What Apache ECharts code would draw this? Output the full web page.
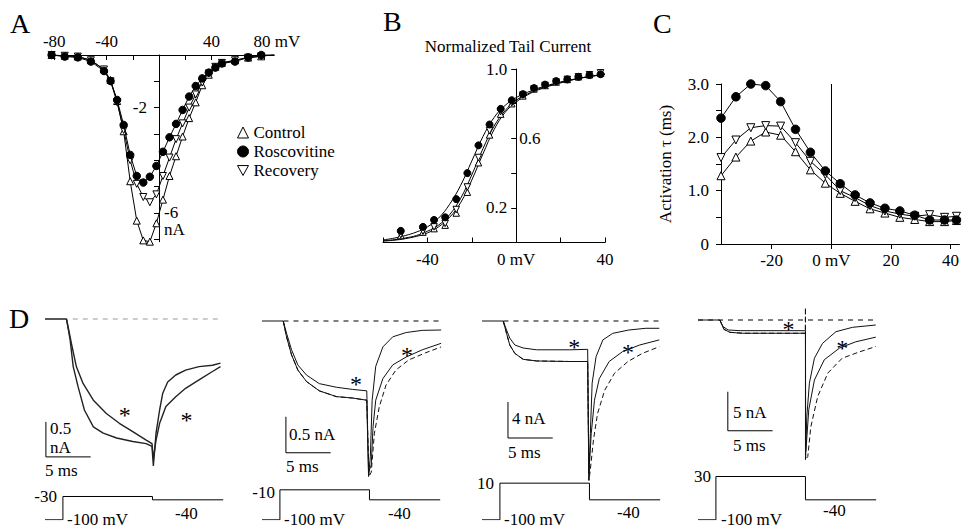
<!DOCTYPE html>
<html>
<head>
<meta charset="utf-8">
<script src="https://cdn.jsdelivr.net/npm/echarts@6/dist/echarts.min.js"></script>
<style>
  html, body { margin: 0; padding: 0; background: #fff; }
  #fig { width: 962px; height: 527px; }
</style>
</head>
<body>
<div id="fig"></div>
<script>
// ---------- A: current-voltage relation (mV, nA)
const ivVoltage = [-82, -72, -62, -52, -42, -37, -32, -27, -22, -17, -12, -7, -2, 3, 8, 13, 18, 23, 28, 33, 38, 43, 48, 58, 68, 78, 88];
const ivControl = [0, -0.03, -0.06, -0.2, -0.55, -0.95, -1.75, -2.9, -4.8, -6.3, -7.05, -7.1, -6.4, -5.5, -4.6, -3.85, -3.1, -2.4, -1.8, -1.15, -0.75, -0.45, -0.3, -0.2, -0.1, -0.05, 0.02];
const ivRoscovitine = [0, -0.06, -0.09, -0.25, -0.61, -0.99, -1.71, -2.66, -3.8, -4.6, -4.85, -4.63, -4.22, -3.68, -3.13, -2.62, -2.09, -1.58, -1.18, -0.89, -0.67, -0.48, -0.32, -0.25, -0.09, 0, 0.06];
const ivRecovery = [0, -0.03, -0.06, -0.2, -0.55, -1.0, -1.8, -2.85, -4.0, -4.9, -5.4, -5.6, -5.3, -4.6, -3.9, -3.2, -2.6, -2.0, -1.5, -1.05, -0.7, -0.45, -0.3, -0.2, -0.1, -0.05, 0.02];

// ---------- B: normalized tail current
const tailVoltage = [-52, -42, -37, -32, -27, -22, -17, -12, -7, -2, 3, 8, 13, 18, 23, 28, 33, 38];
const tailRoscovitine = [0.067, 0.09, 0.13, 0.145, 0.25, 0.40, 0.56, 0.68, 0.77, 0.82, 0.855, 0.89, 0.91, 0.93, 0.94, 0.955, 0.965, 0.97];
const tailControl = [0.04, 0.06, 0.08, 0.1, 0.17, 0.29, 0.46, 0.62, 0.74, 0.80, 0.845, 0.885, 0.905, 0.925, 0.94, 0.955, 0.967, 0.975];
const tailRecovery = [0.045, 0.065, 0.09, 0.11, 0.19, 0.32, 0.49, 0.645, 0.755, 0.805, 0.85, 0.885, 0.905, 0.925, 0.94, 0.955, 0.967, 0.978];
const fitVoltage = [-60, -55, -50, -45, -40, -35, -30, -25, -20, -15, -10, -5, 0, 5, 10, 20, 30, 40];
const fitRoscovitine = [0.015, 0.025, 0.04, 0.06, 0.09, 0.14, 0.22, 0.33, 0.47, 0.61, 0.72, 0.79, 0.835, 0.865, 0.89, 0.925, 0.95, 0.97];
const fitControl = [0.008, 0.013, 0.022, 0.035, 0.055, 0.09, 0.145, 0.23, 0.36, 0.51, 0.65, 0.75, 0.81, 0.85, 0.88, 0.92, 0.95, 0.97];
const fitRecovery = [0.01, 0.016, 0.026, 0.04, 0.065, 0.1, 0.16, 0.255, 0.39, 0.54, 0.67, 0.76, 0.82, 0.855, 0.885, 0.922, 0.95, 0.97];

// ---------- C: activation time constant (ms)
const tauVoltage = [-37, -32, -27, -22, -17, -12, -7, -2, 3, 8, 13, 18, 23, 28, 33, 38, 42];
const tauRoscovitine = [2.36, 2.76, 3.0, 2.97, 2.67, 2.15, 1.72, 1.37, 1.13, 0.92, 0.77, 0.67, 0.62, 0.54, 0.45, 0.45, 0.45];
const tauControl = [1.28, 1.63, 1.93, 2.1, 2.04, 1.73, 1.39, 1.14, 0.95, 0.8, 0.66, 0.58, 0.5, 0.46, 0.42, 0.42, 0.44];
const tauRecovery = [1.62, 1.95, 2.18, 2.22, 2.21, 1.9, 1.55, 1.3, 1.0, 0.87, 0.72, 0.62, 0.56, 0.52, 0.55, 0.5, 0.52];

// ---------- D: current traces, [ms, nA]
const d1Fast = [[-2, 0], [0.4, 0], [0.8, -0.29], [1.15, -0.68], [1.7, -0.97], [2.4, -1.3], [3.4, -1.54], [4.5, -1.63], [6, -1.7], [7.8, -1.75], [9.3, -1.78], [9.95, -1.82], [10.1, -2.1], [10.4, -1.63], [10.8, -1.3], [11.15, -1.06], [11.7, -0.9], [12.6, -0.8], [13.7, -0.73], [15.2, -0.68], [16.7, -0.66], [17.6, -0.63]];
const d1Slow = [[0.4, 0], [0.95, -0.35], [1.5, -0.68], [2.25, -0.92], [3.4, -1.16], [4.85, -1.35], [6.3, -1.49], [7.8, -1.61], [9.3, -1.73], [9.95, -1.78], [10.1, -2.0], [10.4, -1.73], [10.8, -1.49], [11.5, -1.25], [12.6, -1.11], [13.7, -0.99], [15.2, -0.87], [16.7, -0.75], [17.6, -0.68]];
const d2Fast = [[-2, 0], [0.37, 0], [0.74, -0.22], [1.3, -0.47], [2.0, -0.68], [2.96, -0.84], [4.4, -0.97], [6.3, -1.05], [8.1, -1.07], [9.7, -1.1], [9.9, -2.16], [10.1, -1.88], [10.3, -1.1], [10.7, -0.63], [11.5, -0.36], [12.6, -0.22], [14.1, -0.16], [15.9, -0.13], [18, -0.125]];
const d2Ros = [[0.37, 0], [0.74, -0.17], [1.3, -0.4], [2.0, -0.61], [2.96, -0.75], [4.4, -0.87], [6.3, -0.92], [8.1, -0.95], [9.7, -0.97], [9.9, -2.1], [10.2, -2.0], [10.4, -1.47], [10.7, -1.1], [11.5, -0.8], [12.6, -0.61], [14.1, -0.5], [15.9, -0.4], [18, -0.31]];
const d2Rec = [[0.37, 0], [0.74, -0.22], [1.3, -0.47], [2.0, -0.68], [2.96, -0.84], [4.4, -0.97], [6.3, -1.05], [8.1, -1.07], [9.7, -1.1], [9.95, -2.16], [10.2, -2.1], [10.55, -1.56], [11.1, -1.19], [11.85, -0.89], [12.96, -0.68], [14.4, -0.54], [16.3, -0.44], [18, -0.36]];
const d3Fast = [[-2, 0], [0.37, 0], [0.74, -1.37], [1.1, -2.67], [1.67, -3.6], [2.6, -4.26], [4.1, -4.44], [7.8, -4.5], [9.8, -4.5], [9.93, -17.7], [10.1, -12.5], [10.3, -6.9], [10.74, -3.96], [11.5, -2.1], [12.6, -1.37], [14.4, -1.0], [16.3, -0.81], [17.8, -0.81]];
const d3Ros = [[0.37, 0], [0.74, -1.0], [1.1, -1.9], [1.67, -2.67], [2.6, -3.0], [4.1, -3.2], [7.8, -3.2], [9.8, -3.15], [9.93, -17.0], [10.2, -12.5], [10.56, -8.8], [11.1, -6.4], [12.2, -4.5], [13.7, -3.4], [15.6, -2.67], [17.8, -2.1]];
const d3Rec = [[0.37, 0], [0.74, -1.37], [1.1, -2.67], [1.67, -3.6], [2.6, -4.26], [4.1, -4.44], [7.8, -4.5], [9.8, -4.5], [9.95, -17.7], [10.1, -16.5], [10.45, -13.2], [10.9, -10.3], [11.7, -7.7], [12.8, -5.8], [14.3, -4.5], [15.9, -3.6], [17.8, -2.85]];
const d4Fast = [[-2, 0], [0.44, 0], [0.9, -1.2], [1.56, -1.58], [3.0, -1.7], [10, -1.7], [10, -17.9], [10.15, -12.4], [10.44, -8.1], [11, -4.9], [11.9, -3.0], [13.4, -1.5], [15.25, -0.94], [17.85, -0.64]];
const d4Ros = [[0.44, 0], [0.8, -0.85], [1.37, -1.28], [2.7, -1.37], [10, -1.37], [10.02, -17], [10.1, -16], [10.37, -11.5], [11, -7.7], [12.1, -5.1], [13.8, -3.6], [15.6, -2.8], [17.85, -2.2]];
const d4Rec = [[0.44, 0], [0.9, -1.2], [1.56, -1.58], [3.0, -1.7], [9.98, -1.7], [10, 1.6], [10.02, -17.9], [10.26, -17.5], [10.6, -13.7], [11.37, -9.8], [12.5, -6.8], [14.1, -4.9], [16, -4.1], [17.85, -3.4]];
const dBaselines = [[[1.1, 0], [17.7, 0]], [[0.4, 0], [18, 0]], [[0.4, 0], [17.8, 0]], [[-2, 0], [17.85, 0]]];
const dScaleBars = [
  [[-1.9, -1.47], [-1.9, -1.97], [3.1, -1.97]],
  [[0.67, -1.33], [0.67, -1.83], [5.67, -1.83]],
  [[0.9, -9], [0.9, -13], [5.9, -13]],
  [[1.33, -9.2], [1.33, -14.2], [6.33, -14.2]]
];
const dAsterisks = [[[6.9, -1.3], [13.8, -1.37]], [[8.5, -0.81], [14.2, -0.4]], [[8.3, -2.3], [14.3, -2.86]], [[8.1, -0.5], [14.1, -3.0]]];

// voltage protocols (ms, mV)
const protoTime = [-2, 0, 0, 10, 10, 17.9];
const protoStep = [-30, -10, 10, 30];
const protoHold = -100;
const protoTail = -40;

const serif = '"Liberation Serif", "Times New Roman", "DejaVu Serif", serif';
const pair = (xs, ys) => xs.map((x, i) => [x, ys[i]]);
const openStyle = { color: '#fff', borderColor: '#000', borderWidth: 1, opacity: 1 };
const fillStyle = { color: '#000', borderColor: '#000', borderWidth: 1, opacity: 1 };
const axisText = { fontFamily: serif, fontSize: 17, color: '#000' };
const black = { color: '#000', width: 1 };

function marker(kind, name, gi, data, size, line) {
  return {
    type: line ? 'line' : 'scatter', name: name,
    xAxisIndex: gi, yAxisIndex: [0, 2, 4][gi],
    data: data, symbol: kind === 'dot' ? 'circle' : 'triangle',
    symbolRotate: kind === 'down' ? 180 : 0, symbolSize: size,
    showSymbol: true, itemStyle: kind === 'dot' ? fillStyle : openStyle,
    lineStyle: black, z: kind === 'dot' ? 4 : 3
  };
}

const grids = [
  { left: 51.6, top: 55, width: 222.7, height: 186.7 },   // A
  { left: 383, top: 69, width: 222, height: 173.5 },       // B
  { left: 721, top: 84, width: 240, height: 160 },         // C
  { left: 45, top: 305, width: 178.2, height: 168 },       // D traces
  { left: 262, top: 306.6, width: 178.2, height: 172.8 },
  { left: 482, top: 303, width: 178.2, height: 180 },
  { left: 698, top: 304.4, width: 178.2, height: 163.8 }
];
const traceRanges = [[-2.2, 0.2], [-2.2, 0.2], [-18, 2], [-19, 2]];
[45, 262, 482, 698].forEach(l => grids.push({ left: l, top: 476.5, width: 178.2, height: 43.3 }));

const xAxes = [
  { gridIndex: 0, type: 'value', min: -82, max: 88, position: 'top',
    axisLine: { onZero: false, lineStyle: black },
    axisTick: { inside: true, length: 5, lineStyle: black, customValues: [-80, -60, -40, -20, 20, 40, 60, 80] },
    axisLabel: Object.assign({ customValues: [-80, -40, 40, 80], margin: 5,
      formatter: v => v === 80 ? '{u|80 mV}' : String(v),
      rich: { u: { fontFamily: serif, fontSize: 17, color: '#000', padding: [0, 0, 0, 26] } } }, axisText),
    splitLine: { show: false } },
  { gridIndex: 1, type: 'value', min: -60, max: 40,
    axisLine: { onZero: false, lineStyle: black },
    axisTick: { inside: true, length: 5, lineStyle: black, customValues: [-60, -40, -20, 0, 20, 40] },
    axisLabel: Object.assign({ customValues: [-40, 0, 40], margin: 8, formatter: v => v === 0 ? '0 mV' : String(v) }, axisText),
    splitLine: { show: false } },
  { gridIndex: 2, type: 'value', min: -37, max: 43,
    axisLine: { onZero: false, lineStyle: black },
    axisTick: { length: 5, lineStyle: black, customValues: [-20, 0, 20, 40] },
    axisLabel: Object.assign({ customValues: [-20, 0, 20, 40], margin: 8, formatter: v => v === 0 ? '0 mV' : String(v) }, axisText),
    splitLine: { show: false } }
];
for (let i = 3; i < 11; i++) xAxes.push({ gridIndex: i, type: 'value', min: -2, max: 17.9, show: false });

// A's and B's y axes stand at 0 mV inside their grids; a twin axis puts some labels on the right side
const yAxes = [
  { gridIndex: 0, type: 'value', min: -7.1, max: 0, position: 'left', offset: -107.4,
    axisLine: { onZero: false, lineStyle: black },
    axisTick: { length: 5, lineStyle: black, customValues: [-1, -2, -3, -4, -5, -6, -7] },
    axisLabel: Object.assign({ customValues: [-2], margin: 12 }, axisText),
    splitLine: { show: false } },
  { gridIndex: 0, type: 'value', min: -7.1, max: 0, position: 'left', offset: -107.4,
    axisLine: { show: false, onZero: false }, axisTick: { show: false },
    axisLabel: Object.assign({ inside: true, customValues: [-6, -6.65], margin: 5,
      formatter: v => v === -6 ? '-6' : 'nA' }, axisText),
    splitLine: { show: false } },
  { gridIndex: 1, type: 'value', min: 0, max: 1, position: 'left', offset: -133.2,
    axisLine: { onZero: false, lineStyle: black },
    axisTick: { length: 5, lineStyle: black, customValues: [0.2, 0.4, 0.6, 0.8, 1.0] },
    axisLabel: Object.assign({ customValues: [0.2, 1.0], margin: 9, formatter: v => v.toFixed(1) }, axisText),
    splitLine: { show: false } },
  { gridIndex: 1, type: 'value', min: 0, max: 1, position: 'left', offset: -133.2,
    axisLine: { show: false, onZero: false }, axisTick: { show: false },
    axisLabel: Object.assign({ inside: true, customValues: [0.6], margin: 3, formatter: v => v.toFixed(1) }, axisText),
    splitLine: { show: false } },
  { gridIndex: 2, type: 'value', min: 0, max: 3,
    name: 'Activation \u03c4 (ms)', nameLocation: 'middle', nameGap: 47,
    nameTextStyle: { fontFamily: serif, fontSize: 17, color: '#000' },
    axisLine: { onZero: false, lineStyle: black },
    axisTick: { length: 5, lineStyle: black, customValues: [0, 0.5, 1, 1.5, 2, 2.5, 3] },
    axisLabel: Object.assign({ customValues: [0, 1, 2, 3], margin: 12, formatter: v => v === 0 ? '0' : v.toFixed(1) }, axisText),
    splitLine: { show: false } }
];
traceRanges.forEach((r, k) => yAxes.push({ gridIndex: 3 + k, type: 'value', min: r[0], max: r[1], show: false }));
for (let i = 7; i < 11; i++) yAxes.push({ gridIndex: i, type: 'value', min: -100, max: 30, show: false });

const series = [
  marker('up', 'Control', 0, pair(ivVoltage, ivControl), 7, true),
  marker('down', 'Recovery', 0, pair(ivVoltage, ivRecovery), 7, true),
  marker('dot', 'Roscovitine', 0, pair(ivVoltage, ivRoscovitine), 7.5, true)
];
[fitControl, fitRecovery, fitRoscovitine].forEach(f => series.push({
  type: 'line', xAxisIndex: 1, yAxisIndex: 2, data: pair(fitVoltage, f), smooth: 0.4,
  showSymbol: false, symbol: 'none', lineStyle: black, z: 2
}));
series.push(
  marker('up', 'Control', 1, pair(tailVoltage, tailControl), 6.5, false),
  marker('down', 'Recovery', 1, pair(tailVoltage, tailRecovery), 6.5, false),
  marker('dot', 'Roscovitine', 1, pair(tailVoltage, tailRoscovitine), 7, false)
);
const tauCtl = marker('up', 'Control', 2, pair(tauVoltage, tauControl), 8, true);
tauCtl.markLine = { silent: true, symbol: 'none', label: { show: false },
  lineStyle: { color: '#000', width: 1, type: 'solid' }, data: [{ xAxis: 0 }] };
series.push(tauCtl,
  marker('down', 'Recovery', 2, pair(tauVoltage, tauRecovery), 8, true),
  marker('dot', 'Roscovitine', 2, pair(tauVoltage, tauRoscovitine), 8.5, true)
);

const D_Y0 = 5;   // first y axis of the D trace grids
const P_Y0 = 9;   // first y axis of the protocol grids
function trace(k, data, dashed, color, width) {
  return { type: 'line', xAxisIndex: 3 + k, yAxisIndex: D_Y0 + k, data: data, showSymbol: false, symbol: 'none',
    lineStyle: { color: color, width: width, type: dashed ? [5, 3] : 'solid' }, z: 3 };
}
const dTraces = [[d1Fast, d1Slow], [d2Fast, d2Ros, d2Rec], [d3Fast, d3Ros, d3Rec], [d4Fast, d4Ros, d4Rec]];
dTraces.forEach((set, k) => {
  set.forEach((d, j) => series.push(trace(k, d, j === 2, k === 0 ? '#222' : '#111', k === 0 ? 1.4 : 1)));
  series.push({ type: 'line', xAxisIndex: 3 + k, yAxisIndex: D_Y0 + k, data: dBaselines[k], showSymbol: false, symbol: 'none',
    lineStyle: { color: k === 0 ? '#999' : '#000', width: 1, type: [5, 5] }, z: 2 });
  series.push({ type: 'line', xAxisIndex: 3 + k, yAxisIndex: D_Y0 + k, data: dScaleBars[k], showSymbol: false, symbol: 'none',
    lineStyle: black, z: 2 });
  const hold = protoTime.map((t, i) => [t, i === 0 || i === 1 ? protoHold : (i < 4 ? protoStep[k] : protoTail)]);
  series.push({ type: 'line', xAxisIndex: 7 + k, yAxisIndex: P_Y0 + k, data: hold, showSymbol: false, symbol: 'none',
    lineStyle: black });
});

function txt(x, y, s, size, align) {
  return { type: 'text', x: x, y: y, silent: true,
    style: { text: s, fontFamily: serif, fontSize: size || 17, fill: '#000', align: align || 'left', verticalAlign: 'middle' } };
}
const labels = [
  txt(10, 23, 'A', 28), txt(383, 21, 'B', 28), txt(653, 23, 'C', 28), txt(9, 318, 'D', 28),
  txt(508, 46, 'Normalized Tail Current', 17, 'center'),
  txt(50, 428, '0.5'), txt(50, 447, 'nA'), txt(45, 470, '5 ms'),
  txt(289, 434, '0.5 nA'), txt(286, 466, '5 ms'),
  txt(512, 418, '4 nA'), txt(508, 452, '5 ms'),
  txt(733, 412, '5 nA'), txt(733, 445, '5 ms'),
  txt(57, 496, '-30', 17, 'right'), txt(275, 492, '-10', 17, 'right'), txt(494, 483, '10', 17, 'right'), txt(711, 476, '30', 17, 'right'),
  txt(67, 519, '-100 mV'), txt(284, 519, '-100 mV'), txt(504, 519, '-100 mV'), txt(721, 519, '-100 mV'),
  txt(175, 513, '-40'), txt(388, 513, '-40'), txt(617, 512, '-40'), txt(823, 510, '-40')
];

const chart = echarts.init(document.getElementById('fig'), null, { renderer: 'svg' });
chart.setOption({
  animation: false,
  backgroundColor: '#fff',
  grid: grids,
  xAxis: xAxes,
  yAxis: yAxes,
  legend: {
    left: 232, top: 119, orient: 'vertical', itemGap: 2, itemWidth: 11, itemHeight: 11, selectedMode: false,
    textStyle: { fontFamily: serif, fontSize: 17, color: '#000' },
    data: [
      { name: 'Control', icon: 'triangle', itemStyle: openStyle },
      { name: 'Roscovitine', icon: 'circle', itemStyle: fillStyle },
      { name: 'Recovery', icon: 'path://M0,0L10,0L5,9Z', itemStyle: openStyle }
    ]
  },
  series: series,
  graphic: labels
});

// asterisks marking the roscovitine traces, placed through each trace grid's scales
const stars = [];
dAsterisks.forEach((pts, k) => pts.forEach(p => {
  const xy = chart.convertToPixel({ gridIndex: 3 + k }, p);
  stars.push(txt(xy[0], xy[1] + 5, '*', 24, 'center'));
}));
chart.setOption({ graphic: labels.concat(stars) });
</script>
</body>
</html>
